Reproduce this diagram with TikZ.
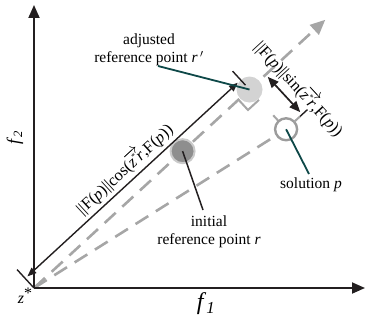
\documentclass[tikz,border=0pt]{standalone}
\usepackage{fontspec}
\setmainfont{Liberation Serif}
\usetikzlibrary{arrows.meta,backgrounds}
\definecolor{axisc}{HTML}{231F20}
\definecolor{dashc}{HTML}{A6A6A6}
\definecolor{tealc}{HTML}{0E4848}
\definecolor{rfill}{HTML}{8E8E8E}
\definecolor{rring}{HTML}{CACACA}
\definecolor{rpfill}{HTML}{D3D3D3}
\definecolor{pstroke}{HTML}{9C9C9C}
\newcommand{\zrvec}{\ensuremath{\overrightarrow{\mbox{\textit{z}\raisebox{0.35em}{\footnotesize *}\textit{r}}}}}
\tikzset{
  axis/.style={axisc, line width=1.8pt, -{Triangle[length=13pt,width=11pt]}},
  guide/.style={dashc, line width=2.6pt, dash pattern=on 15pt off 9pt},
  marker/.style={dashc, line width=2pt},
  dimline/.style={axisc, line width=1.4pt},
  dimarrow/.style={axisc, line width=1.4pt, {Triangle[length=9pt,width=7pt]}-{Triangle[length=9pt,width=7pt]}},
  sinarrow/.style={axisc, line width=1.7pt, {Triangle[length=11pt,width=9pt]}-{Triangle[length=11pt,width=9pt]}},
  pointer/.style={tealc, line width=1.8pt},
  rnode/.style={circle, fill=rfill, draw=rring, line width=2pt, minimum size=24pt, inner sep=0pt},
  rpnode/.style={circle, fill=rpfill, minimum size=26pt, inner sep=0pt},
  pnode/.style={circle, fill=white, draw=pstroke, line width=2.4pt, minimum size=22pt, inner sep=0pt},
  lbl/.style={font=\fontsize{15.5}{18}\selectfont, align=center, inner sep=0pt},
  dimlbl/.style={font=\fontsize{16.5}{18}\selectfont, inner sep=0pt}
}
\begin{document}
\begin{tikzpicture}[x=1pt,y=1pt]
\useasboundingbox (0,0) rectangle (366,322);
\coordinate (z) at (34,34);
\coordinate (ytip) at (34,317);
\coordinate (xtip) at (365,34);
\draw[axis] (z) -- (ytip);
\draw[axis] (z) -- (xtip);
\node[font=\fontsize{18}{20}\selectfont, rotate=90, inner sep=0pt] (f2) at (15,184) {\textit{f}\textsubscript{\textit{2}}};
\node[font=\fontsize{24}{26}\selectfont, inner sep=0pt] (f1) at (206,18) {\textit{f}\textsubscript{\textit{1}}};
\node[font=\fontsize{16}{18}\selectfont, inner sep=0pt] (zs) at (25,26) {\textit{z}\raisebox{0.3em}{*}};

\begin{scope}[shift={(34,34)}, rotate=42.64]
  \coordinate (o) at (0,0);
  \coordinate (dtip) at (396,0);
  \node[rnode] (r) at (202,0) {};
  \node[rpnode] (rp) at (293,0) {};
  \node[pnode] (p) at (293,-54) {};
  \begin{pgfonlayer}{background}
    \draw[guide, -{Triangle[length=15pt,width=13pt]}] (o) -- (dtip);
    \draw[guide] (o) -- (p);
    \coordinate (m1) at (278,0);
    \coordinate (m2) at (278,-14);
    \coordinate (m3) at (293,-14);
    \draw[marker] (m1) -- (m2) -- (m3);
    \coordinate (g1) at (293,-35);
    \coordinate (g2) at (293,-43);
    \draw[marker] (g1) -- (g2);
  \end{pgfonlayer}
  \coordinate (e1) at (304,-54);
  \coordinate (e2) at (312,-54);
  \coordinate (e3) at (322,-54);
  \draw[marker] (e1) -- (e2);
  \draw[dimline] (e2) -- (e3);
  \coordinate (t0) at (0,25);
  \draw[dimline] (o) -- (t0);
  \coordinate (t1) at (293,6);
  \coordinate (t2) at (293,25);
  \draw[dimline] (t1) -- (t2);
  \coordinate (c1) at (3,13);
  \coordinate (c2) at (289,13);
  \draw[dimarrow] (c1) -- (c2);
  \coordinate (s1) at (315,-3);
  \coordinate (s2) at (315,-51);
  \draw[sinarrow] (s1) -- (s2);
  \node[dimlbl, rotate=42.64] (cosl) at (147,27) {||F(\textit{p})||cos(\zrvec,F(\textit{p}))};
  \node[dimlbl, rotate=-47.36] (sinl) at (331,-33) {||F(\textit{p})||sin(\zrvec,F(\textit{p}))};
\end{scope}

\node[lbl] (adj) at (149,272) {adjusted\\reference point \textit{r}\,$'$};
\coordinate (adjs) at (158,256);
\draw[pointer] (adjs) -- (rp.center);
\node[lbl] (ini) at (209,90) {initial\\reference point \textit{r}};
\coordinate (inis) at (203,112);
\draw[axisc, line width=1.5pt] (inis) -- (r.center);
\node[lbl] (sol) at (311,137) {solution \textit{p}};
\coordinate (sols) at (309,148);
\draw[pointer] (sols) -- (p.center);
\end{tikzpicture}
\end{document}
